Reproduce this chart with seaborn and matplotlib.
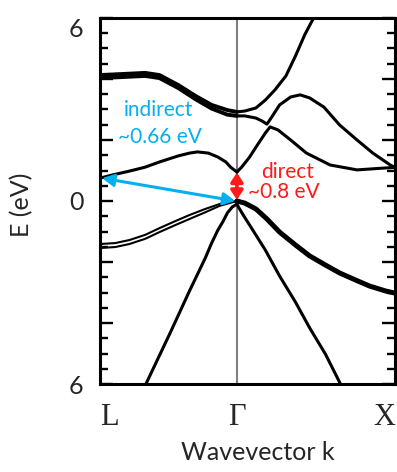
import numpy as np
import pandas as pd
import matplotlib
matplotlib.use("Agg")
import matplotlib.pyplot as plt
from matplotlib.ticker import MultipleLocator
import seaborn as sns

# ---------------- data (k in units of 2*pi/a, E in eV) ----------------
K_L = -0.866
tick_pos = [K_L, 0.0, 1.0]
tick_labels = ["L", "\u0393", "X"]

# conduction bands, L side
cbL_upper_k = [-0.866, -0.74, -0.58, -0.49, -0.37, -0.26, -0.16, -0.06, 0.0]
cbL_upper_a = [4.13, 4.16, 4.20, 4.13, 3.80, 3.44, 3.15, 2.98, 2.92]
cbL_upper_b = [4.03, 4.06, 4.10, 4.03, 3.70, 3.33, 3.03, 2.83, 2.79]

cbL_low_k = [-0.866, -0.79, -0.68, -0.58, -0.49, -0.37, -0.30, -0.25, -0.18, -0.12, -0.07, -0.04, 0.0]
cbL_low_E = [0.75, 0.85, 0.98, 1.11, 1.28, 1.48, 1.57, 1.61, 1.57, 1.44, 1.28, 1.11, 0.95]

# conduction bands, X side
cbX_steep_k = [0.0, 0.05, 0.12, 0.18, 0.24, 0.31, 0.37, 0.43, 0.49]
cbX_steep_E = [2.92, 2.95, 3.05, 3.31, 3.64, 4.10, 4.75, 5.46, 6.05]

cbX_hump_k = [0.0, 0.05, 0.12, 0.16, 0.19, 0.22, 0.27, 0.34, 0.40, 0.46, 0.55, 0.65, 0.76, 0.86, 0.97, 1.0]
cbX_hump_E = [2.79, 2.79, 2.72, 2.62, 2.52, 2.75, 3.15, 3.41, 3.48, 3.38, 3.08, 2.49, 2.00, 1.57, 1.18, 1.10]

cbX_low_k = [0.0, 0.03, 0.08, 0.13, 0.18, 0.21, 0.26, 0.34, 0.44, 0.59, 0.76, 0.93, 1.0]
cbX_low_E = [0.95, 1.11, 1.44, 1.84, 2.23, 2.43, 2.33, 2.00, 1.57, 1.18, 1.02, 1.08, 1.10]

# valence bands, L side
vbL_k = [-0.866, -0.77, -0.68, -0.58, -0.49, -0.39, -0.30, -0.20, -0.11, 0.0]
vbL_hh_a = [-1.41, -1.38, -1.28, -1.11, -0.89, -0.66, -0.46, -0.26, -0.10, 0.0]
vbL_hh_b = [-1.54, -1.51, -1.41, -1.24, -1.02, -0.79, -0.59, -0.37, -0.16, 0.0]

vbL_so_k = [0.0, -0.03, -0.06, -0.09, -0.12, -0.16, -0.20, -0.30, -0.42, -0.58]
vbL_so_E = [-0.10, -0.20, -0.39, -0.69, -0.95, -1.38, -1.87, -2.95, -4.30, -6.05]

# valence bands, X side
vbX_hh_k = [0.0, 0.05, 0.12, 0.19, 0.27, 0.37, 0.46, 0.56, 0.65, 0.75, 0.84, 0.94, 1.0]
vbX_hh_E = [0.0, -0.07, -0.26, -0.59, -1.02, -1.44, -1.80, -2.10, -2.36, -2.59, -2.79, -2.95, -3.02]

vbX_lh_k = [0.0, 0.01, 0.04, 0.10, 0.14, 0.18, 0.27, 0.37, 0.46, 0.56, 0.66]
vbX_lh_E = [-0.10, -0.20, -0.46, -0.95, -1.28, -1.61, -2.46, -3.31, -4.16, -5.02, -6.05]

indirect_gap = ((-0.01, 0.0), (K_L + 0.013, 0.75))
direct_gap = ((0.0, 0.04), (0.0, 0.93))

CYAN = "#00B0F0"
RED = "#FF1A1A"

# ---------------- build table ----------------
rows = []
def add(name, ks, es, group):
    for k, e in zip(ks, es):
        rows.append(dict(band=name, k=k, E=e, group=group))

add("cbL_a", cbL_upper_k, cbL_upper_a, "upper")
add("cbL_b", cbL_upper_k, cbL_upper_b, "upper")
add("cbL_low", cbL_low_k, cbL_low_E, "normal")
add("cbX_steep", cbX_steep_k, cbX_steep_E, "normal")
add("cbX_hump", cbX_hump_k, cbX_hump_E, "normal")
add("cbX_low", cbX_low_k, cbX_low_E, "normal")
add("vbL_a", vbL_k, vbL_hh_a, "thin")
add("vbL_b", vbL_k, vbL_hh_b, "thin")
add("vbL_so", vbL_so_k, vbL_so_E, "normal")
add("vbX_hh", vbX_hh_k, vbX_hh_E, "thick")
add("vbX_lh", vbX_lh_k, vbX_lh_E, "normal")
df = pd.DataFrame(rows)

# ---------------- figure ----------------
sns.set_style("white")
plt.rcParams["font.family"] = ["Lato", "DejaVu Sans"]

fig = plt.figure(figsize=(3.97, 4.72), dpi=100)
ax = fig.add_axes([100 / 397, 88 / 472, 295 / 397, 366 / 472])

ax.axvline(0.0, color="#808080", lw=1.5, zorder=1)

widths = {"normal": 2.2, "upper": 2.8, "thin": 1.5, "thick": 3.6}
for grp, lw in widths.items():
    sub = df[df["group"] == grp]
    sns.lineplot(data=sub, x="k", y="E", units="band", estimator=None, sort=False,
                 color="black", lw=lw, ax=ax, legend=False, zorder=2,
                 solid_capstyle="round", solid_joinstyle="round")

ax.set_xlim(K_L, 1.0)
ax.set_ylim(-6, 6)

# arrows
ax.annotate("", xy=indirect_gap[1], xytext=indirect_gap[0],
            arrowprops=dict(arrowstyle="<|-|>,head_length=0.5,head_width=0.26",
                            color=CYAN, lw=2.2, mutation_scale=14,
                            shrinkA=0, shrinkB=0), zorder=5)
ax.annotate("", xy=direct_gap[1], xytext=direct_gap[0],
            arrowprops=dict(arrowstyle="<|-|>,head_length=0.45,head_width=0.3",
                            color=RED, lw=2.6, mutation_scale=12,
                            shrinkA=0, shrinkB=0), zorder=5)

ax.text(-0.493, 2.98, "indirect", color=CYAN, fontsize=15, ha="center", va="center")
ax.text(-0.49, 2.10, "~0.66 eV", color=CYAN, fontsize=15, ha="center", va="center")
ax.text(0.321, 0.95, "direct", color=RED, fontsize=15, ha="center", va="center")
ax.text(0.295, 0.30, "~0.8 eV", color=RED, fontsize=15, ha="center", va="center")

# axes styling
for s in ax.spines.values():
    s.set_visible(True)
    s.set_color("black")
    s.set_linewidth(2.2)

ax.set_yticks([-6, -4, -2, 0, 2, 4, 6])
ax.set_yticklabels(["6", "", "", "0", "", "", "6"], fontsize=18)
ax.yaxis.set_minor_locator(MultipleLocator(0.5))
ax.tick_params(axis="y", which="both", direction="in", left=True, right=True,
               width=1.7, color="black", pad=12)
ax.tick_params(axis="y", which="major", length=9.5)
ax.tick_params(axis="y", which="minor", length=5.8)
ylabs = ax.get_yticklabels()
ylabs[-1].set_va("top")

ax.set_xticks(tick_pos)
ax.set_xticklabels(tick_labels, fontsize=22, family="Liberation Serif")
ax.tick_params(axis="x", which="both", length=0, pad=14, bottom=True, top=False)
xlabs = ax.get_xticklabels()
xlabs[0].set_ha("left")
xlabs[-1].set_ha("right")

ax.set_xlabel("Wavevector k", fontsize=18)
ax.set_ylabel("E (eV)", fontsize=18)
ax.xaxis.set_label_coords(0.536, -0.155)
ax.yaxis.set_label_coords(-0.225, 0.489)

fig.savefig("out.png", dpi=100)
